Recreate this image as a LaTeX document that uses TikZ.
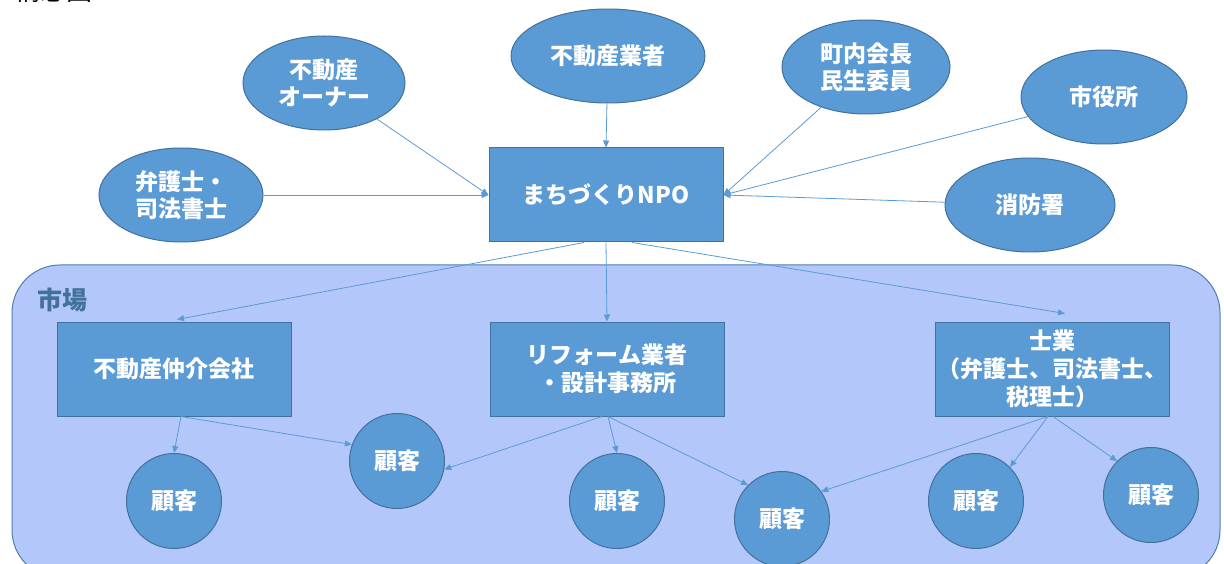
\documentclass[tikz,border=0pt]{standalone}
\usepackage{fontspec}
\newfontfamily\jp{Noto Sans CJK JP}
\usetikzlibrary{shapes.geometric,arrows.meta}
\definecolor{nodefill}{HTML}{5B9BD5}
\definecolor{nodeedge}{HTML}{41719C}
\definecolor{marketfill}{HTML}{B4C7FA}
\definecolor{marketedge}{HTML}{4F7EB3}
\definecolor{linkcol}{HTML}{5B9BD5}
\tikzset{
  blob/.style={ellipse, draw=nodeedge, fill=nodefill, line width=1pt, text=white,
    font=\jp\bfseries\fontsize{23}{27}\selectfont, align=center, inner sep=0pt},
  boxnode/.style={rectangle, draw=nodeedge, fill=nodefill, line width=1pt, text=white,
    font=\jp\bfseries\fontsize{23}{28}\selectfont, align=center, inner sep=0pt,
    minimum width=234pt, minimum height=94pt},
  cust/.style={circle, draw=nodeedge, fill=nodefill, line width=1pt, text=white,
    font=\jp\bfseries\fontsize{23}{27}\selectfont, inner sep=0pt, minimum size=95pt},
  link/.style={draw=linkcol, line width=0.8pt, -{Triangle[length=7pt,width=6pt]}},
  market/.style={draw=marketedge, fill=marketfill, line width=1pt, rounded corners=48pt},
  marketlabel/.style={text=nodeedge, font=\jp\bfseries\fontsize{25}{28}\selectfont, inner sep=0pt},
  title/.style={text=black, font=\jp\fontsize{26}{30}\selectfont, inner sep=0pt, anchor=base west}
}
\begin{document}
\begin{tikzpicture}[x=1pt,y=-1pt]
\useasboundingbox (0,0) rectangle (1224,564);
\fill[white] (0,0) rectangle (1224,564);
\node[title] (ttl) at (14,1) {構想図};

% market area
\draw[market] (12,265) rectangle (1220,578);
\node[marketlabel] (mkt) at (62,300) {市場};

% top ellipses
\node[blob, minimum width=162pt, minimum height=94pt] (owner) at (324,83) {不動産\\オーナー};
\node[blob, minimum width=164pt, minimum height=94pt] (lawyer) at (181,195) {弁護士・\\司法書士};
\node[blob, minimum width=194pt, minimum height=94pt] (agent) at (608,56) {不動産業者};
\node[blob, minimum width=168pt, minimum height=94pt] (chonai) at (866,67) {町内会長\\民生委員};
\node[blob, minimum width=166pt, minimum height=94pt] (city) at (1104,97) {市役所};
\node[blob, minimum width=170pt, minimum height=94pt] (fire) at (1030,205) {消防署};

% central NPO
\node[boxnode] (npo) at (606,195) {まちづくりNPO};

% market boxes
\node[boxnode] (broker) at (174,369) {不動産仲介会社};
\node[boxnode] (reform) at (607,369) {リフォーム業者\\・設計事務所};
\node[boxnode] (shigyo) at (1052,369) {士業\\（弁護士、司法書士、\\税理士）};

% customers
\node[cust] (c1) at (174,501) {顧客};
\node[cust] (c2) at (397,461) {顧客};
\node[cust] (c3) at (617,501) {顧客};
\node[cust] (c4) at (782,519) {顧客};
\node[cust] (c5) at (976,501) {顧客};
\node[cust] (c6) at (1151,495) {顧客};

% connectors to NPO
\draw[link] (owner) -- (npo.west);
\draw[link] (lawyer) -- (npo.west);
\draw[link] (agent) -- (npo.north);
\draw[link] (chonai) -- (npo.east);
\draw[link] (city) -- (npo.east);
\draw[link] (fire) -- (npo.east);

% NPO to market
\draw[link] ([xshift=-22pt]npo.south) -- ([xshift=3pt,yshift=2pt]broker.north);
\draw[link] (npo.south) -- (reform.north);
\draw[link] ([xshift=26pt]npo.south) -- ([xshift=13pt,yshift=8pt]shigyo.north);

% market to customers
\draw[link] ([xshift=7pt]broker.south) -- (c1.north);
\draw[link] ([xshift=7pt]broker.south) -- (c2.160);
\draw[link] ([xshift=-5pt]reform.south) -- (c2.-10);
\draw[link] ([xshift=1pt]reform.south) -- (c3.north);
\draw[link] ([xshift=1pt]reform.south) -- (c4.135);
\draw[link] ([xshift=-4pt]shigyo.south) -- (c4.35);
\draw[link] ([xshift=-4pt]shigyo.south) -- (c5.45);
\draw[link] ([xshift=1pt]shigyo.south) -- (c6.135);
\end{tikzpicture}
\end{document}
